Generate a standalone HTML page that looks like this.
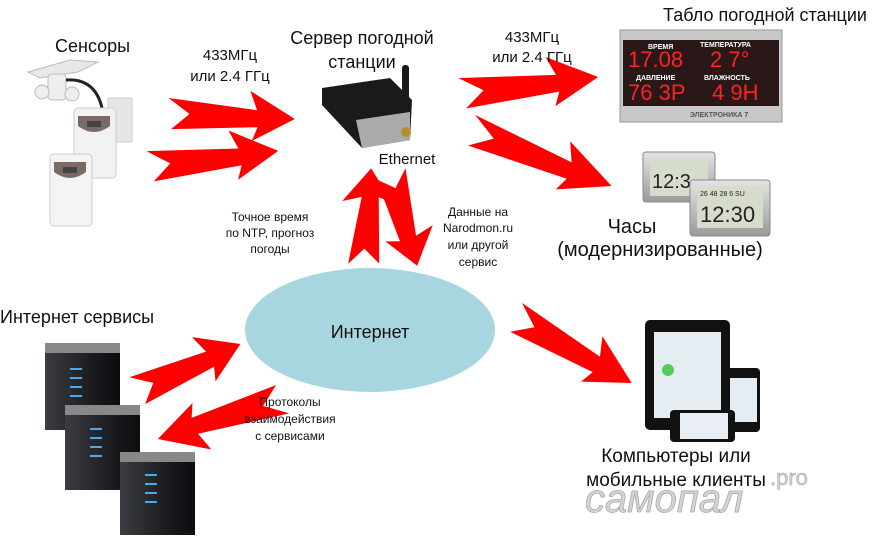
<!DOCTYPE html>
<html><head><meta charset="utf-8"><style>
html,body{margin:0;padding:0;background:#fff;}
svg{display:block;}
text{font-family:"Liberation Sans","Noto Sans CJK SC",sans-serif;fill:#111;}
</style></head><body>
<svg width="877" height="544" viewBox="0 0 877 544" xmlns="http://www.w3.org/2000/svg">
<defs>
<polygon id="ar" points="0,-14 0.7,-6 0.64,-25 1,1 0.67,25 0.71,11 0.03,17 0.17,1" fill="#f00"/>
<linearGradient id="tw" x1="0" x2="1"><stop offset="0" stop-color="#3a3d42"/><stop offset="0.6" stop-color="#1c1d20"/><stop offset="1" stop-color="#0c0c0e"/></linearGradient>
<linearGradient id="sil" x1="0" y1="0" x2="0" y2="1"><stop offset="0" stop-color="#e4e4e4"/><stop offset="1" stop-color="#9a9a9a"/></linearGradient>
</defs>

<ellipse cx="370" cy="330" rx="125" ry="62" fill="#a7d6e0"/>
<text x="370" y="338" font-size="18" text-anchor="middle">Интернет</text>

<g transform="translate(168,112) rotate(2.7) scale(127,1)"><use href="#ar"/></g>
<g transform="translate(148,165) rotate(-6.6) scale(131,1)"><use href="#ar"/></g>
<g transform="translate(460,92) rotate(-6.6) scale(139,1)"><use href="#ar"/></g>
<g transform="translate(470,128) rotate(21.9) scale(153,1)"><use href="#ar"/></g>
<g transform="translate(362,265) rotate(-85.2) scale(97,1)"><use href="#ar"/></g>
<g transform="translate(392,172) rotate(74.4) scale(97,1)"><use href="#ar"/></g>
<g transform="translate(135,390) rotate(-24.1) scale(115,1)"><use href="#ar"/></g>
<g transform="translate(285,400) rotate(162.5) scale(133,1)"><use href="#ar"/></g>
<g transform="translate(515,315) rotate(29.8) scale(135,1)"><use href="#ar"/></g>

<path d="M28,72 L70,60 L98,62 L78,72 L40,78 Z" fill="#e8e8e8" stroke="#bbb"/>
<rect x="48" y="74" width="18" height="26" rx="4" fill="#eee" stroke="#bbb"/>
<circle cx="42" cy="92" r="7" fill="#eee" stroke="#bbb"/><circle cx="72" cy="94" r="7" fill="#eee" stroke="#bbb"/>
<path d="M66,80 Q95,78 102,108" stroke="#222" stroke-width="3" fill="none"/>
<rect x="108" y="98" width="24" height="44" fill="#e6e6e6" stroke="#ccc"/>
<rect x="74" y="108" width="42" height="70" rx="4" fill="#f2f2f2" stroke="#ccc"/>
<path d="M78,116 h32 v10 q-16,12 -32,0 z" fill="#7a6a66"/><rect x="87" y="121" width="14" height="6" fill="#444"/>
<rect x="50" y="154" width="42" height="72" rx="4" fill="#f4f4f4" stroke="#ccc"/>
<path d="M54,162 h32 v10 q-16,12 -32,0 z" fill="#7a6a66"/><rect x="63" y="167" width="14" height="6" fill="#444"/>

<rect x="402" y="65" width="7" height="65" rx="3" fill="#1a1a1a"/>
<path d="M322,88 L390,78 L412,100 L410,140 L362,148 L322,105 Z" fill="#1a1a1a"/>
<path d="M356,120 L410,112 L410,140 L362,148 Z" fill="#aaa"/>
<circle cx="406" cy="132" r="5" fill="#b8902a"/>

<rect x="620" y="30" width="162" height="92" fill="#c8c8c8" stroke="#999"/>
<rect x="623" y="40" width="156" height="66" fill="#2a1818"/>
<text x="648" y="49" font-size="7" style="fill:#fff" font-weight="bold">ВРЕМЯ</text>
<text x="700" y="47" font-size="7" style="fill:#fff" font-weight="bold">ТЕМПЕРАТУРА</text>
<text x="628" y="67" font-size="22" style="fill:#f22">17.08</text>
<text x="710" y="67" font-size="22" style="fill:#f22">2 7°</text>
<text x="636" y="80" font-size="7" style="fill:#fff" font-weight="bold">ДАВЛЕНИЕ</text>
<text x="704" y="80" font-size="7" style="fill:#fff" font-weight="bold">ВЛАЖНОСТЬ</text>
<text x="628" y="100" font-size="22" style="fill:#f22">76 3P</text>
<text x="712" y="100" font-size="22" style="fill:#f22">4 9H</text>
<text x="690" y="117" font-size="7" style="fill:#555" font-weight="bold">ЭЛЕКТРОНИКА 7</text>

<rect x="643" y="152" width="72" height="50" rx="3" fill="url(#sil)" stroke="#888"/>
<rect x="650" y="158" width="58" height="38" fill="#d6dccc"/>
<text x="652" y="188" font-size="20" style="fill:#222">12:3</text>
<rect x="690" y="180" width="80" height="56" rx="3" fill="url(#sil)" stroke="#888"/>
<rect x="697" y="186" width="66" height="42" fill="#d6dccc"/>
<text x="700" y="196" font-size="7" style="fill:#222">26 48 28 6 SU</text>
<text x="700" y="222" font-size="22" style="fill:#222">12:30</text>

<g>
<rect x="45" y="343" width="75" height="87" fill="url(#tw)"/><rect x="45" y="343" width="75" height="10" fill="#888"/>
<rect x="65" y="405" width="75" height="85" fill="url(#tw)"/><rect x="65" y="405" width="75" height="10" fill="#888"/>
<rect x="120" y="452" width="75" height="83" fill="url(#tw)"/><rect x="120" y="452" width="75" height="10" fill="#888"/>
<g fill="#4aa8e8">
<rect x="70" y="368" width="12" height="2"/><rect x="70" y="377" width="12" height="2"/><rect x="70" y="386" width="12" height="2"/><rect x="70" y="395" width="12" height="2"/>
<rect x="90" y="428" width="12" height="2"/><rect x="90" y="437" width="12" height="2"/><rect x="90" y="446" width="12" height="2"/><rect x="90" y="455" width="12" height="2"/>
<rect x="145" y="474" width="12" height="2"/><rect x="145" y="483" width="12" height="2"/><rect x="145" y="492" width="12" height="2"/><rect x="145" y="501" width="12" height="2"/>
</g></g>

<rect x="645" y="320" width="85" height="110" rx="5" fill="#111"/>
<rect x="654" y="332" width="67" height="86" fill="#e6edf2"/>
<circle cx="668" cy="370" r="6" fill="#5c5"/>
<rect x="727" y="368" width="33" height="64" rx="4" fill="#111"/>
<rect x="730" y="378" width="27" height="44" fill="#e6edf2"/>
<rect x="670" y="410" width="65" height="32" rx="4" fill="#111"/>
<rect x="680" y="413" width="48" height="26" fill="#e8eef4"/>

<text x="55" y="52" font-size="18">Сенсоры</text>
<text x="230" y="60" font-size="15" text-anchor="middle">433МГц</text>
<text x="230" y="81" font-size="15" text-anchor="middle">или 2.4 ГГц</text>
<text x="362" y="44" font-size="18" text-anchor="middle">Сервер погодной</text>
<text x="362" y="68" font-size="18" text-anchor="middle">станции</text>
<text x="407" y="164" font-size="15" text-anchor="middle">Ethernet</text>
<text x="532" y="42" font-size="15" text-anchor="middle">433МГц</text>
<text x="532" y="62" font-size="15" text-anchor="middle">или 2.4 ГГц</text>
<text x="765" y="21" font-size="18" text-anchor="middle">Табло погодной станции</text>
<text x="632" y="233" font-size="20" text-anchor="middle">Часы</text>
<text x="660" y="256" font-size="20" text-anchor="middle">(модернизированные)</text>
<text x="270" y="221" font-size="12" text-anchor="middle">Точное время</text>
<text x="270" y="237" font-size="12" text-anchor="middle">по NTP, прогноз</text>
<text x="270" y="253" font-size="12" text-anchor="middle">погоды</text>
<text x="478" y="216" font-size="12" text-anchor="middle">Данные на</text>
<text x="478" y="232" font-size="12" text-anchor="middle">Narodmon.ru</text>
<text x="478" y="249" font-size="12" text-anchor="middle">или другой</text>
<text x="478" y="266" font-size="12" text-anchor="middle">сервис</text>
<text x="0" y="323" font-size="18">Интернет сервисы</text>
<text x="290" y="406" font-size="12" text-anchor="middle">Протоколы</text>
<text x="290" y="423" font-size="12" text-anchor="middle">взаимодействия</text>
<text x="290" y="440" font-size="12" text-anchor="middle">с сервисами</text>
<text x="676" y="462" font-size="19" text-anchor="middle">Компьютеры или</text>
<text x="676" y="486" font-size="19" text-anchor="middle">мобильные клиенты</text>
<text x="585" y="512" font-size="40" font-style="italic" style="fill:#d4d4d4;stroke:#aaa;stroke-width:0.8">самопал</text>
<text x="770" y="485" font-size="22" style="fill:#d4d4d4;stroke:#aaa;stroke-width:0.6">.pro</text>
</svg>
</body></html>
